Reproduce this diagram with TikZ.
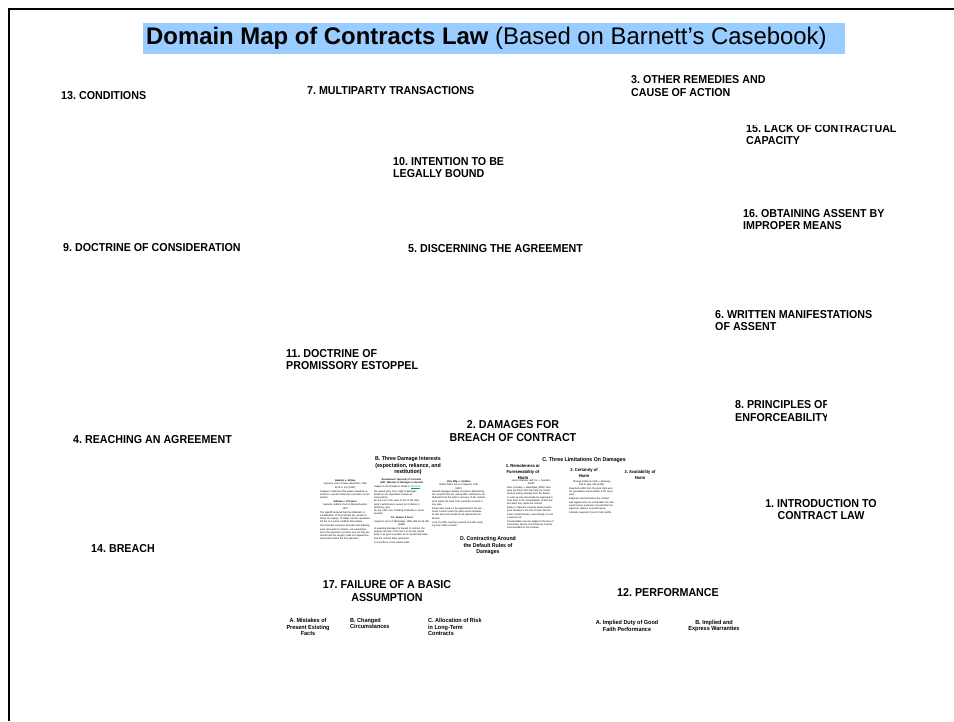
\documentclass[tikz,border=0pt]{standalone}
\usepackage{fontspec}
\setmainfont{Liberation Sans}[FakeStretch=0.93]
\newfontfamily\titlefont{Liberation Sans}[FakeStretch=0.995]
\definecolor{titleblue}{RGB}{153,204,255}
\definecolor{linkteal}{RGB}{0,153,153}
\frenchspacing
\begin{document}
\begin{tikzpicture}[x=1pt,y=-1pt,
  topic/.style={font=\bfseries\fontsize{11.5}{12.6}\selectfont, inner sep=0pt, anchor=west, align=left},
  topicc/.style={topic, anchor=center, align=center},
  sublbl/.style={font=\bfseries\fontsize{5.9}{6.5}\selectfont, inner sep=0pt, align=center},
  sublbll/.style={sublbl, align=left, anchor=west},
  tinyhead/.style={font=\bfseries\fontsize{5.6}{6.5}\selectfont, inner sep=0pt, align=center},
  minihead/.style={font=\bfseries\fontsize{4.4}{6}\selectfont, inner sep=0pt, align=center},
  notes/.style={font=\fontsize{2.5}{3.25}\selectfont, inner sep=0pt, anchor=north west}
]
\useasboundingbox (0,0) rectangle (954,721);
\fill[white] (0,0) rectangle (954,721);

% page frame
\draw[line width=2pt] (954,9) -- (9,9) -- (9,721);

% title
\node[fill=titleblue, minimum width=702pt, minimum height=31pt, inner sep=0pt] (titlebox) at (494,38.5) {};
\node[anchor=west, inner sep=0pt, font=\titlefont\fontsize{24}{28}\selectfont] (title) at (146,38.5)
  {\textbf{Domain Map of Contracts Law} (Based on Barnett’s Casebook)};

% main topics
\node[topic] (t13) at (61,96) {13. CONDITIONS};
\node[topic] (t7) at (307,91) {7. MULTIPARTY TRANSACTIONS};
\node[topic] (t3) at (631,86) {3. OTHER REMEDIES AND\\CAUSE OF ACTION};
\node[topic] (t15) at (746,134.5) {15. LACK OF CONTRACTUAL\\CAPACITY};
\fill[white] (735,110) rectangle (910,125.3);
\node[topic] (t10) at (393,167.5) {10. INTENTION TO BE\\LEGALLY BOUND};
\node[topic] (t16) at (743,219.5) {16. OBTAINING ASSENT BY\\IMPROPER MEANS};
\node[topic] (t9) at (63,248) {9. DOCTRINE OF CONSIDERATION};
\node[topic] (t5) at (408,249) {5. DISCERNING THE AGREEMENT};
\node[topic] (t6) at (715,320.5) {6. WRITTEN MANIFESTATIONS\\OF ASSENT};
\node[topic] (t11) at (286,359.5) {11. DOCTRINE OF\\PROMISSORY ESTOPPEL};
\node[topic] (t8) at (735,411) {8. PRINCIPLES OF\\ENFORCEABILITY};
\fill[white] (826.5,398) rectangle (870,425);
\node[topicc] (t2) at (513,431) {2. DAMAGES FOR\\BREACH OF CONTRACT};
\node[topic] (t4) at (73,440) {4. REACHING AN AGREEMENT};
\node[topicc] (t1) at (821,509.5) {1. INTRODUCTION TO\\CONTRACT LAW};
\node[topic] (t14) at (91,549) {14. BREACH};
\node[topicc] (t17) at (387,591) {17. FAILURE OF A BASIC\\ASSUMPTION};
\node[topic] (t12) at (617,593) {12. PERFORMANCE};

% subtopics of 17 and 12
\node[sublbl] (s17a) at (308,627) {A. Mistakes of\\Present Existing\\Facts};
\node[sublbll] (s17b) at (350,623.5) {B. Changed\\Circumstances};
\node[sublbll] (s17c) at (428,627) {C. Allocation of Risk\\in Long-Term\\Contracts};
\node[sublbl] (s12a) at (627,626) {A. Implied Duty of Good\\Faith Performance};
\node[sublbl] (s12b) at (714,626) {B. Implied and\\Express Warranties};

% damages detail
\node[tinyhead] (dB) at (408,466) {B. Three Damage Interests\\(expectation, reliance, and\\restitution)};
\node[tinyhead] (dC) at (584,460) {C. Three Limitations On Damages};
\node[tinyhead] (dD) at (488,546) {D. Contracting Around\\the Default Rules of\\Damages};
\node[minihead] (dC1) at (523,472) {1. Remoteness or\\Foreseeability of\\Harm};
\node[minihead] (dC2) at (584,473) {2. Certainty of\\Harm};
\node[minihead] (dC3) at (640,475) {3. Availability of\\Harm};

\node[notes, text width=50pt] (nB1) at (320,479.5) {%
{\centering\textbf{Hawkins v. McGee}\\Supreme Court of New Hampshire, 1929\\84 N.H. 114 (1929)\par}
\vspace{0.8pt}
Surgeon's statement that patient would be restored to a perfect hand was a promise, not an opinion.\par
\vspace{0.8pt}
{\centering\textbf{Sullivan v. O'Connor}\\Supreme Judicial Court of Massachusetts, 1973\par}
\vspace{0.8pt}
The plaintiff declared that the defendant, in consideration of the promised fee, would enhance her beauty; he failed, and the operations left her in a worse condition than before.\par
\vspace{0.8pt}
Out-of-pocket expenses and pain and suffering were recovered as reliance, not expectation, since the physician's promise was not fully performed and the surgery made her appearance worse than before the first operation.\par};

\node[notes, text width=55pt] (nB2) at (374,478.5) {%
{\centering\textbf{Restatement (Second) of Contracts}\\\textbf{§347. Measure of Damages in General}\par}
Subject to the limitations stated in \textcolor{linkteal}{\underline{§§350-53}},\\
the injured party has a right to damages\\
based on his expectation interest as\\
measured by\\
(a) the loss in the value to him of the other\\
party's performance caused by its failure or\\
deficiency, plus\\
(b) any other loss, including incidental or consequential\par
\vspace{0.8pt}
{\centering\textbf{J.O. Hooker \& Sons}\\Supreme Court of Mississippi, 1996, 683 So.2d 396\\(1996)\par}
\vspace{0.8pt}
In awarding damages for breach of contract, the purpose and aim of the law is to put the injured party in as good a position as he would have been had the contract been performed.\par
\vspace{0.8pt}
Lost profits to a lost-volume seller.\par};

\node[notes, text width=53pt] (nB3) at (432,480.5) {%
{\centering\textbf{Vitex Mfg. v. Caribtex}\\United States Court of Appeals, 1967\\(1967)\par}
Specific damages already incurred in determining the net profit lost are recoverable; overhead is not deducted from the seller's recovery of the contract price where the fixed costs would be incurred in any case.\par
\vspace{0.8pt}
Fixed costs need not be apportioned to the particular contract when the plant would otherwise lie idle and costs would not be reduced by the breach.\par
\vspace{0.8pt}
Loss of profits covering a period of profits resulting from seller's breach.\par};

\node[notes, text width=48pt] (nC1) at (507,479) {%
{\centering Hector Martinez and Co. v. Southern\\Pacific\par}
\vspace{0.8pt}
Rule of Hadley v. Baxendale (1854): damages are those that may fairly be considered as arising naturally from the breach, or such as may reasonably be supposed to have been in the contemplation of both parties when they made the contract.\par
\vspace{0.8pt}
Delay in shipment of goods whose market price declined is the sort of harm that the carrier should foresee, even though it is not a general rule.\par
\vspace{0.8pt}
Foreseeability must be judged at the time of contracting; special circumstances must be communicated to the promisor.\par};

\node[notes, text width=45pt] (nC2) at (569,480) {%
{\centering Chicago Coliseum Club v. Dempsey\\265 Ill. App. 542 (1932)\par}
\vspace{0.8pt}
Expected profits from the prize fight were too speculative and uncertain to be recovered.\par
\vspace{0.8pt}
Expenses incurred before the contract was signed were not recoverable; the club could recover expenses incurred after the signing in reliance on performance.\par
\vspace{0.8pt}
Certainty required of proof of lost profits.\par};
\end{tikzpicture}
\end{document}
